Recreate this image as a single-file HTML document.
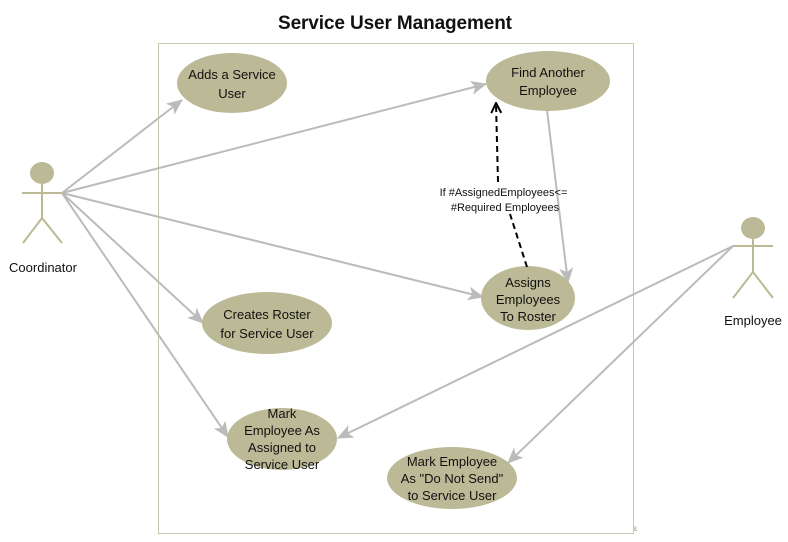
<!DOCTYPE html>
<html><head><meta charset="utf-8"><style>
html,body{margin:0;padding:0;background:#fff;}
svg{display:block;}
text{font-family:"Liberation Sans",sans-serif;}
</style></head><body>
<svg width="788" height="542" viewBox="0 0 788 542" xmlns="http://www.w3.org/2000/svg">
<defs>
<marker id="a" viewBox="0 0 16 14" refX="15" refY="7" markerWidth="16" markerHeight="14" markerUnits="userSpaceOnUse" orient="auto">
<path d="M0,0 L16,7 L0,14 L4,7 Z" fill="#bbb"/></marker>
<marker id="o" viewBox="0 0 12 12" refX="11" refY="6" markerWidth="12" markerHeight="12" markerUnits="userSpaceOnUse" orient="auto">
<path d="M1,1 L11,6 L1,11" fill="none" stroke="#000" stroke-width="2"/></marker>
</defs>
<text x="395" y="29" text-anchor="middle" font-size="19" font-weight="bold" fill="#111" textLength="234">Service User Management</text>
<rect x="158.5" y="43.5" width="475" height="490" fill="none" stroke="#c9c6ad" stroke-width="1"/>
<text x="634" y="531" font-size="8" fill="#999">ε</text>
<g stroke="#bcb996" stroke-width="2" fill="none">
<line x1="42" y1="184" x2="42" y2="218"/><line x1="22" y1="193" x2="62" y2="193"/>
<line x1="42" y1="218" x2="23" y2="243"/><line x1="42" y1="218" x2="62" y2="243"/>
<line x1="753" y1="239" x2="753" y2="272"/><line x1="733" y1="246" x2="773" y2="246"/>
<line x1="753" y1="272" x2="733" y2="298"/><line x1="753" y1="272" x2="773" y2="298"/>
</g>
<ellipse cx="42" cy="173" rx="12" ry="11" fill="#bcb996"/>
<ellipse cx="753" cy="228" rx="12" ry="11" fill="#bcb996"/>
<text x="43" y="272" text-anchor="middle" font-size="13" fill="#111">Coordinator</text>
<text x="753" y="325" text-anchor="middle" font-size="13" fill="#111">Employee</text>
<g stroke="#bbb" stroke-width="2" fill="none" marker-end="url(#a)">
<line x1="62" y1="193" x2="182" y2="100"/>
<line x1="62" y1="193" x2="486" y2="84"/>
<line x1="62" y1="193" x2="483" y2="297"/>
<line x1="62" y1="193" x2="203" y2="323"/>
<line x1="62" y1="193" x2="228" y2="437"/>
<line x1="733" y1="246" x2="338" y2="438"/>
<line x1="733" y1="246" x2="508" y2="463"/>
<line x1="547" y1="110" x2="568" y2="283"/>
</g>
<g fill="#bcb996">
<ellipse cx="232" cy="83" rx="55" ry="30"/>
<ellipse cx="548" cy="81" rx="62" ry="30"/>
<ellipse cx="528" cy="298" rx="47" ry="32"/>
<ellipse cx="267" cy="323" rx="65" ry="31"/>
<ellipse cx="282" cy="439" rx="55" ry="31"/>
<ellipse cx="452" cy="478" rx="65" ry="31"/>
</g>
<g stroke="#000" stroke-width="2" fill="none" stroke-dasharray="6,4">
<line x1="527" y1="267" x2="510" y2="214"/>
<path d="M498,182 L496,103" marker-end="url(#o)"/>
</g>
<text font-size="11" fill="#111" text-anchor="middle">
<tspan x="505" y="196">If #AssignedEmployees&lt;=</tspan>
<tspan x="505" y="211">#Required Employees</tspan></text>
<g font-size="13" fill="#111" text-anchor="middle">
<text><tspan x="232" y="79">Adds a Service</tspan><tspan x="232" y="98">User</tspan></text>
<text><tspan x="548" y="77">Find Another</tspan><tspan x="548" y="95">Employee</tspan></text>
<text><tspan x="528" y="287">Assigns</tspan><tspan x="528" y="304">Employees</tspan><tspan x="528" y="321">To Roster</tspan></text>
<text><tspan x="267" y="319">Creates Roster</tspan><tspan x="267" y="338">for Service User</tspan></text>
<text><tspan x="282" y="418">Mark</tspan><tspan x="282" y="435">Employee As</tspan><tspan x="282" y="452">Assigned to</tspan><tspan x="282" y="469">Service User</tspan></text>
<text><tspan x="452" y="466">Mark Employee</tspan><tspan x="452" y="483">As "Do Not Send"</tspan><tspan x="452" y="500">to Service User</tspan></text>
</g>
</svg>
</body></html>
